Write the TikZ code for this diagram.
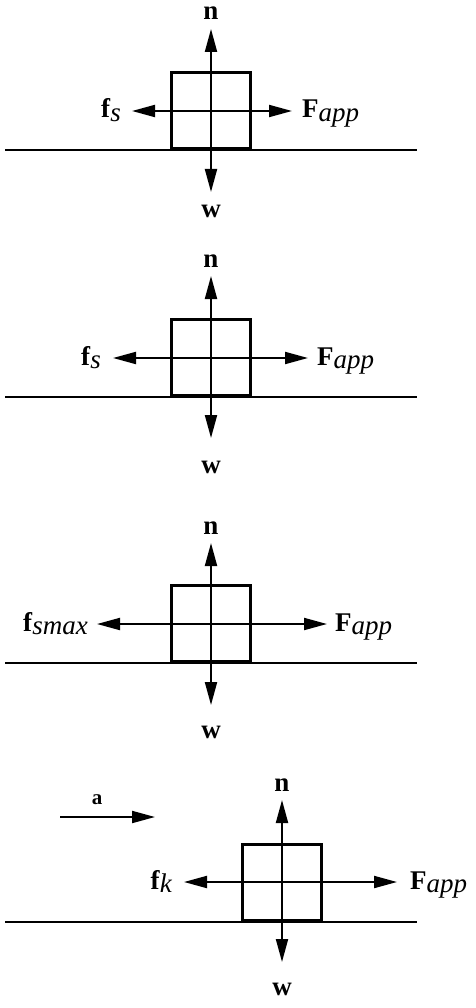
\documentclass[tikz,border=0pt]{standalone}
\usepackage{fontspec}
\setmainfont{Liberation Serif}
\usetikzlibrary{arrows.meta}
\tikzset{
  blk/.style={draw, line width=3pt, minimum width=79pt, minimum height=76pt, inner sep=0pt},
  force/.style={line width=2pt, -{Triangle[length=23pt,width=12pt]}},
  ground/.style={line width=2pt},
  lbl/.style={inner sep=0pt, font=\fontsize{27}{30}\selectfont},
  small/.style={inner sep=0pt, font=\fontsize{21}{24}\selectfont}
}
\newcommand{\sub}[1]{\raisebox{-3.5pt}{\itshape #1}}
\begin{document}
\begin{tikzpicture}[x=1pt,y=-1pt]
\useasboundingbox (0,0) rectangle (475,1008);
% ---------- Panel 1 ----------
\coordinate (g1a) at (5,150); \coordinate (g1b) at (417,150);
\draw[ground] (g1a) -- (g1b);
\node[blk] (b1) at (211,110.5) {};
\coordinate (t1) at (211,29); \coordinate (d1) at (211,192);
\coordinate (l1) at (132,111); \coordinate (r1) at (292,111);
\draw[force] (b1.center) -- (t1);
\draw[force] (b1.center) -- (d1);
\draw[force] (211,111) -- (l1);
\draw[force] (211,111) -- (r1);
\node[lbl, anchor=base] (n1) at (211,20) {\textbf{n}};
\node[lbl, anchor=base] (w1) at (211,218) {\textbf{w}};
\node[lbl, anchor=base east] (f1) at (121,118) {\textbf{f}\sub{s}};
\node[lbl, anchor=base west] (F1) at (302,118) {\textbf{F}\sub{app}};
% ---------- Panel 2 ----------
\coordinate (g2a) at (5,397); \coordinate (g2b) at (417,397);
\draw[ground] (g2a) -- (g2b);
\node[blk] (b2) at (211,357.5) {};
\coordinate (t2) at (211,276); \coordinate (d2) at (211,438);
\coordinate (l2) at (113,358); \coordinate (r2) at (308,358);
\draw[force] (211,358) -- (t2);
\draw[force] (211,358) -- (d2);
\draw[force] (211,358) -- (l2);
\draw[force] (211,358) -- (r2);
\node[lbl, anchor=base] (n2) at (211,267) {\textbf{n}};
\node[lbl, anchor=base] (w2) at (211,473) {\textbf{w}};
\node[lbl, anchor=base east] (f2) at (101,365) {\textbf{f}\sub{s}};
\node[lbl, anchor=base west] (F2) at (317,365) {\textbf{F}\sub{app}};
% ---------- Panel 3 ----------
\coordinate (g3a) at (5,663); \coordinate (g3b) at (417,663);
\draw[ground] (g3a) -- (g3b);
\node[blk] (b3) at (211,623.5) {};
\coordinate (t3) at (211,543); \coordinate (d3) at (211,705);
\coordinate (l3) at (97,624); \coordinate (r3) at (327,624);
\draw[force] (211,624) -- (t3);
\draw[force] (211,624) -- (d3);
\draw[force] (211,624) -- (l3);
\draw[force] (211,624) -- (r3);
\node[lbl, anchor=base] (n3) at (211,534) {\textbf{n}};
\node[lbl, anchor=base] (w3) at (211,738) {\textbf{w}};
\node[lbl, anchor=base east] (f3) at (88,631) {\textbf{f}\sub{smax}};
\node[lbl, anchor=base west] (F3) at (335,631) {\textbf{F}\sub{app}};
% ---------- Panel 4 ----------
\coordinate (g4a) at (5,922); \coordinate (g4b) at (417,922);
\draw[ground] (g4a) -- (g4b);
\node[blk] (b4) at (282,882) {};
\coordinate (t4) at (282,800); \coordinate (d4) at (282,962);
\coordinate (l4) at (184,882); \coordinate (r4) at (397,882);
\draw[force] (282,882) -- (t4);
\draw[force] (282,882) -- (d4);
\draw[force] (282,882) -- (l4);
\draw[force] (282,882) -- (r4);
\node[lbl, anchor=base] (n4) at (282,791) {\textbf{n}};
\node[lbl, anchor=base] (w4) at (282,995) {\textbf{w}};
\node[lbl, anchor=base east] (f4) at (172,889) {\textbf{f}\sub{k}};
\node[lbl, anchor=base west] (F4) at (410,889) {\textbf{F}\sub{app}};
\coordinate (a0) at (60,817); \coordinate (a1) at (155,817);
\draw[force] (a0) -- (a1);
\node[small, anchor=base] (al) at (97,804) {\textbf{a}};
\end{tikzpicture}
\end{document}
